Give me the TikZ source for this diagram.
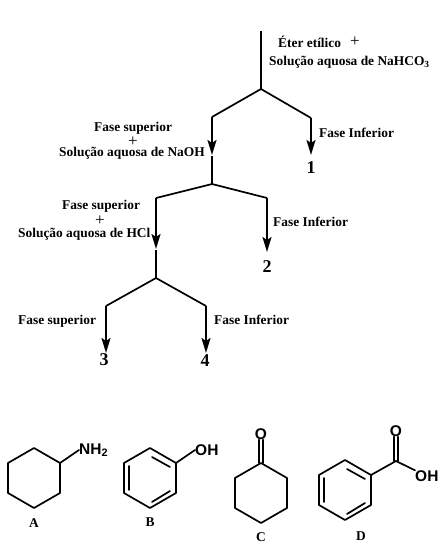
\documentclass[tikz,border=0pt]{standalone}
\usepackage{fontspec}
\setmainfont{Liberation Serif}
\setsansfont{Liberation Sans}
\usetikzlibrary{arrows.meta}
\tikzset{
  >={Stealth[length=15pt,width=9pt,inset=3pt]},
  flow/.style={->,line width=2pt},
  tline/.style={line width=1.7pt,line join=miter},
  bond/.style={line width=1.7pt,line cap=round,line join=round},
  lbl/.style={font=\fontsize{13.4}{13.4}\bfseries,inner sep=0pt,anchor=base west},
  plus/.style={font=\fontsize{17}{17}\selectfont,inner sep=0pt,anchor=base},
  num/.style={font=\fontsize{18}{18}\bfseries,inner sep=0pt},
  atom/.style={font=\fontsize{15.5}{15.5}\sffamily\bfseries,inner sep=0pt},
  cmp/.style={font=\fontsize{13.4}{13.4}\bfseries,inner sep=0pt},
}
\begin{document}
\begin{tikzpicture}[x=1pt,y=-1pt]
  \useasboundingbox (0,0) rectangle (443,549);
  % separation tree
  \foreach \nm/\px/\py in {t0/261/31, t1/261/89, t2/212/117, t3/311/118, t4/212/155,
    t5/212/156, t6/212/184, t7/156/198, t8/267/198, t9/156/249, t10/156/250,
    t11/156/278, t12/106/306, t13/206/306, e1/311/155, e2/267/252, e3/106/353, e4/206/353}
    \coordinate (\nm) at (\px,\py);
  \draw[tline] (t0) -- (t1);
  \draw[tline] (t2) -- (t1) -- (t3);
  \draw[flow] (t2) -- (t4);
  \draw[flow] (t3) -- (e1);
  \draw[tline] (t5) -- (t6);
  \draw[tline] (t7) -- (t6) -- (t8);
  \draw[flow] (t7) -- (t9);
  \draw[flow] (t8) -- (e2);
  \draw[tline] (t10) -- (t11);
  \draw[tline] (t12) -- (t11) -- (t13);
  \draw[flow] (t12) -- (e3);
  \draw[flow] (t13) -- (e4);
  % labels
  \node[lbl] (eter) at (278,47) {Éter etílico};
  \node[plus] (p1) at (355,46) {+};
  \node[lbl] (nahco) at (269,65) {Solução aquosa de NaHCO\textsubscript{3}};
  \node[lbl] (fs1) at (94,131) {Fase superior};
  \node[plus] (p2) at (133,146) {+};
  \node[lbl] (naoh) at (59,156) {Solução aquosa de NaOH};
  \node[lbl] (fi1) at (319,137) {Fase Inferior};
  \node[num] (n1) at (311,168) {1};
  \node[lbl] (fs2) at (62,209) {Fase superior};
  \node[plus] (p3) at (100,225) {+};
  \node[lbl] (hcl) at (18,237) {Solução aquosa de HCl};
  \node[lbl] (fi2) at (273,226) {Fase Inferior};
  \node[num] (n2) at (267,267) {2};
  \node[lbl] (fs3) at (18,324) {Fase superior};
  \node[lbl] (fi3) at (214,324) {Fase Inferior};
  \node[num] (n3) at (104,360) {3};
  \node[num] (n4) at (205,361) {4};
  % rings
  \foreach \r/\cx/\cy in {a/34/478, b/150/478, c/261/493, d/345/490}
    \foreach \i/\dx/\dy in {1/0/-30, 2/26/-15, 3/26/15, 4/0/30, 5/-26/15, 6/-26/-15}
      \coordinate (\r\i) at (\cx+\dx,\cy+\dy);
  \foreach \r in {a,b,c,d}
    \draw[bond] (\r1) -- (\r2) -- (\r3) -- (\r4) -- (\r5) -- (\r6) -- cycle;
  % inner double bonds
  \foreach \r/\cx/\cy in {b/150/478, d/345/490} {
    \draw[bond] (\cx-21,\cy-12) -- (\cx-21,\cy+12);
    \draw[bond] (\cx+2,\cy-21) -- (\cx+20,\cy-11);
    \draw[bond] (\cx+2,\cy+24) -- (\cx+20,\cy+13);
  }
  % substituents
  \node[atom,anchor=west] (nh) at (79,450) {NH\textsubscript{2}};
  \node[atom,anchor=west] (oh1) at (195,450) {OH};
  \node[atom] (o1) at (261,434) {O};
  \node[atom] (o2) at (396,431) {O};
  \node[atom,anchor=west] (oh2) at (415,476) {OH};
  \coordinate (dc) at (396,461);
  \draw[bond] (a2) -- (nh.west);
  \draw[bond] (b2) -- (oh1.west);
  \draw[bond] ([xshift=-2pt]c1) -- ([xshift=-2pt]o1.south);
  \draw[bond] ([xshift=2pt]c1) -- ([xshift=2pt]o1.south);
  \draw[bond] (d2) -- (dc);
  \draw[bond] ([xshift=-2pt]dc) -- ([xshift=-2pt]o2.south);
  \draw[bond] ([xshift=2pt]dc) -- ([xshift=2pt]o2.south);
  \draw[bond] (dc) -- (oh2.north west);
  % compound letters
  \node[cmp] (la) at (34,523) {A};
  \node[cmp] (lb) at (150,522) {B};
  \node[cmp] (lc) at (261,537) {C};
  \node[cmp] (ld) at (361,536) {D};
\end{tikzpicture}
\end{document}
